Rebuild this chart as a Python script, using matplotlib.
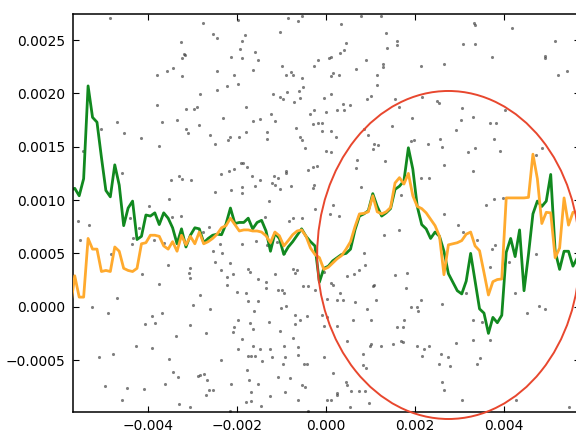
#!/usr/bin/env python3
# -*- coding: utf-8 -*-
"""
两条平滑曲线 + 散点 + 标注椭圆
"""

import numpy as np
import matplotlib
matplotlib.use('Agg')
import matplotlib.pyplot as plt
from matplotlib.patches import Ellipse

# 曲线取样位置, 单位 1e-4
x_grid = np.arange(-57.5, 57.0, 1.0)

# 绿色曲线, 单位 1e-4
green_vals = [
    10.9, 11.1, 10.4, 12.0, 20.7, 17.75, 17.3, 14.0, 10.9, 10.3,
    13.3, 11.4, 7.6, 9.25, 9.9, 6.3, 6.6, 8.6, 8.5, 8.8,
    7.7, 8.8, 8.3, 7.4, 5.9, 7.3, 5.6, 6.7, 7.4, 7.3,
    6.0, 6.4, 6.7, 6.8, 6.75, 7.75, 9.25, 7.8, 7.9, 7.9,
    8.3, 7.3, 7.9, 8.1, 7.1, 5.2, 6.9, 6.4, 4.9, 5.6,
    6.1, 6.7, 7.3, 6.6, 6.1, 5.7, 2.3, 3.6, 3.8, 4.3,
    4.6, 4.9, 5.0, 5.4, 7.2, 8.5, 8.7, 9.0, 10.6, 9.4,
    8.5, 8.8, 9.2, 11.0, 11.3, 11.8, 14.9, 12.9, 9.4, 7.7,
    7.3, 6.4, 7.0, 6.6, 5.2, 3.1, 2.3, 1.5, 1.2, 2.4,
    5.0, 2.4, -0.2, -0.6, -2.5, -1.0, -1.5, -0.8, 5.1, 6.4,
    4.7, 7.2, 1.5, 4.9, 8.7, 9.9, 9.4, 9.9, 12.4, 5.2,
    3.5, 5.2, 5.2, 3.8, 4.6,
]

# 橙色曲线, 单位 1e-4
orange_vals = [
    -0.2, 2.9, 0.9, 0.9, 6.4, 5.4, 5.4, 3.3, 3.4, 3.3,
    5.6, 5.2, 3.6, 3.4, 3.3, 3.6, 5.9, 6.0, 6.7, 6.7,
    6.6, 5.7, 5.4, 6.1, 5.2, 6.7, 5.8, 6.6, 5.9, 7.0,
    5.9, 6.1, 6.4, 6.8, 7.4, 7.6, 8.3, 7.7, 7.1, 7.2,
    7.2, 7.1, 7.1, 7.0, 6.65, 6.0, 7.0, 6.65, 5.7, 6.2,
    6.75, 7.1, 7.2, 6.6, 5.5, 4.9, 4.6, 3.5, 3.7, 4.1,
    4.5, 4.8, 5.4, 6.1, 7.5, 8.7, 8.75, 8.9, 10.4, 8.9,
    8.7, 8.9, 9.3, 11.6, 12.1, 11.5, 12.5, 10.4, 9.4, 9.2,
    8.8, 8.2, 7.6, 6.6, 3.0, 5.8, 5.9, 6.0, 6.2, 6.8,
    7.0, 5.7, 5.25, 3.2, 1.1, 2.35, 2.55, 2.6, 10.2, 10.2,
    10.2, 10.2, 10.2, 10.25, 14.3, 12.0, 7.8, 8.85, 8.8, 4.6,
    5.5, 10.2, 7.65, 8.85, 8.9,
]

# 散点 (x, y), 单位 1e-4
dots = [
    (-48.5, 27.1), (-32.7, 24.8), (-32.0, 23.7), (-31.8, 23.6), (-32.5, 23.3),
    (-34.5, 22.4), (-35.7, 22.1), (-38.0, 21.7), (-32.5, 21.6), (-38.0, 18.9),
    (-31.6, 18.5), (-29.7, 18.5), (-29.0, 18.7), (-47.0, 17.3), (-36.9, 17.3),
    (-33.5, 17.5), (-50.5, 16.7), (-31.6, 16.7), (-31.1, 16.3), (-45.5, 16.3),
    (-41.7, 15.8), (-37.6, 15.1), (-54.7, 14.6), (-45.8, 12.5), (-33.0, 12.3),
    (-32.4, 12.0), (-34.8, 11.9), (-30.3, 11.9), (-35.4, 10.1), (-39.9, 9.4),
    (-32.7, 8.5), (-34.6, 8.4), (-55.7, 8.0), (-53.2, 7.7), (-44.0, 8.3),
    (-42.1, 7.4), (-55.4, 6.3), (-43.4, 6.4), (-43.6, 5.9), (-38.7, 6.3),
    (-36.5, 6.0), (-48.3, 4.9), (-41.3, 3.1), (-35.6, 3.9), (-30.5, 3.6),
    (-30.9, 3.2), (-30.5, 2.7), (-37.6, 2.1), (-47.0, 0.8), (-52.7, 0.0),
    (-30.0, 0.2), (-49.1, -0.6), (-39.1, -0.9), (-36.9, -0.6), (-40.6, -1.6),
    (-38.4, -1.5), (-30.5, -1.7), (-33.7, -2.7), (-42.8, -3.7), (-39.1, -3.9),
    (-51.1, -4.75), (-47.9, -4.4), (-35.2, -4.9), (-34.5, -6.1), (-33.3, -6.6),
    (-28.8, -6.5), (-49.8, -7.4), (-44.7, -7.6), (-41.0, -7.7), (-36.1, -7.2),
    (-45.8, -8.75), (-33.0, -9.1), (-30.7, -9.4),
    (-19.8, 26.9), (-27.6, 26.6), (-8.5, 27.1), (-6.3, 26.75), (-5.5, 27.3),
    (-25.4, 25.6), (-24.6, 25.2), (-10.4, 25.8), (-18.3, 25.5), (-19.0, 24.9),
    (-19.4, 24.2), (-21.4, 23.4), (-19.0, 23.3), (-15.9, 23.9), (-15.4, 23.1),
    (-16.4, 22.2), (-2.8, 22.6), (-1.8, 23.1), (-10.0, 22.6), (-24.6, 22.1),
    (-20.7, 21.7), (-7.9, 22.0), (-7.4, 21.7), (-8.9, 21.75), (-5.5, 21.4),
    (-22.2, 20.7), (-19.9, 20.9), (-24.6, 20.3), (-5.2, 20.6), (-28.4, 19.9),
    (-11.9, 19.9), (-10.4, 19.7), (-9.7, 19.5), (-8.7, 20.1), (-6.1, 20.2),
    (-5.9, 19.6), (-7.2, 19.2), (-18.1, 18.75), (-12.4, 18.1), (-3.7, 18.1),
    (-2.7, 18.4), (-28.5, 17.0), (-23.1, 17.7), (-16.4, 17.4), (-14.9, 17.6),
    (-11.4, 17.4), (-6.7, 16.8), (-2.9, 17.1), (-1.9, 17.2), (-1.0, 17.2),
    (-1.0, 16.5), (-26.1, 16.1), (-22.0, 15.6), (-21.6, 15.9), (-19.6, 15.9),
    (-17.9, 16.4), (-13.2, 16.4), (-13.2, 15.7), (-5.9, 15.9), (-5.5, 15.6),
    (-4.8, 14.9), (-24.9, 15.25), (-19.2, 13.5), (-18.7, 13.5), (-17.7, 13.1),
    (-23.7, 12.4), (-21.9, 12.75), (-20.7, 12.9), (-16.6, 12.3), (-14.9, 11.9),
    (-11.7, 12.3), (-10.9, 12.1), (-12.1, 11.6), (-8.9, 12.75), (-9.1, 12.5),
    (-4.0, 12.8), (-2.9, 13.1), (-2.0, 13.2), (-2.8, 11.4), (-2.9, 11.1),
    (-25.0, 10.8), (-21.3, 10.9), (-18.8, 11.25), (-18.8, 10.7), (-16.0, 11.3),
    (-11.4, 11.4), (-10.4, 11.0), (-7.8, 11.3), (-12.8, 9.9), (-7.4, 8.3),
    (-13.8, 8.4), (-26.4, 7.5), (-27.6, 7.0), (-5.5, 8.3), (-2.4, 9.2),
    (-8.4, 8.0), (-23.9, 5.9), (-25.4, 5.25), (-23.4, 5.0), (-24.9, 4.2),
    (-21.5, 4.1), (-19.0, 5.9), (-15.7, 6.2), (-13.3, 5.8), (-11.0, 6.1),
    (-9.4, 5.0), (-20.9, 3.1), (-17.5, 3.5), (-17.2, 3.3), (-23.7, 3.4),
    (-22.2, 2.75), (-22.2, 2.0), (-15.4, 2.6), (-13.4, 2.3), (-11.4, 3.1),
    (-7.4, 3.5), (-6.9, 3.2), (-6.5, 3.4), (-4.0, 1.9), (-5.2, 1.9),
    (-2.4, 1.6), (-28.4, 1.1), (-26.1, -0.2), (-20.1, 1.4), (-17.9, 1.3),
    (-17.5, 0.5), (-15.3, 0.5), (-13.6, 1.75), (-10.8, 1.6), (-9.8, 1.6),
    (-9.5, 1.3), (-10.2, -0.1), (-8.9, 0.1), (-6.9, -0.8), (-5.9, -1.2),
    (-4.4, -0.9), (-0.9, -0.8), (-27.1, -2.5), (-20.9, -2.4), (-19.9, -1.25),
    (-20.7, -1.9), (-17.2, -1.5), (-16.2, -0.4), (-16.4, -2.1), (-12.8, -1.4),
    (-10.4, -2.25), (-7.0, -1.6), (-19.0, -3.0), (-7.4, -2.9), (-19.9, -4.0),
    (-16.4, -3.7), (-14.9, -4.0), (-12.7, -4.0), (-9.4, -3.7), (-6.4, -3.8),
    (-17.5, -4.6), (-16.9, -4.6), (-16.0, -4.6), (-12.1, -4.7), (-9.3, -4.7),
    (-6.4, -4.5), (-23.7, -5.0), (-14.3, -5.1), (-9.7, -5.4), (-4.9, -5.4),
    (-4.4, -5.4), (-17.7, -5.9), (-28.4, -6.4), (-27.4, -6.3), (-26.7, -6.9),
    (-26.4, -7.8), (-25.4, -7.8), (-21.3, -7.25), (-17.4, -6.9), (-15.3, -7.25),
    (-10.9, -6.6), (-8.2, -6.7), (-5.4, -7.3), (-4.8, -7.5), (-26.9, -8.3),
    (-18.1, -8.9), (-16.9, -8.0), (-16.8, -8.8), (-14.7, -9.3), (-12.7, -8.4),
    (-9.3, -8.0), (-6.4, -8.75), (-21.6, -9.75), (-4.0, -9.75),
    (7.9, 27.3), (12.4, 27.3), (3.3, 26.5), (13.4, 25.7), (4.4, 24.7),
    (15.9, 24.9), (15.9, 24.5), (13.6, 24.3), (4.0, 24.1), (3.1, 23.8),
    (1.2, 23.4), (0.7, 23.3), (8.9, 23.1), (12.9, 22.8), (12.7, 22.5),
    (6.7, 22.3), (1.6, 21.9), (2.9, 21.7), (1.2, 21.6), (11.4, 21.75),
    (21.4, 22.6), (26.5, 22.75), (11.4, 20.8), (-0.4, 19.6), (1.2, 19.9),
    (10.0, 19.8), (9.3, 19.5), (15.4, 19.5), (21.6, 19.7), (3.7, 19.0),
    (5.4, 18.9), (2.5, 18.4), (4.0, 18.4), (-0.1, 18.3), (16.4, 18.7),
    (25.0, 19.25), (25.4, 19.1), (19.4, 17.7), (8.5, 16.7), (14.9, 16.9),
    (1.0, 16.5), (2.2, 15.9), (9.4, 16.1), (10.8, 15.25), (10.6, 14.8),
    (11.7, 15.2), (19.8, 15.6), (19.2, 15.5), (22.9, 15.3), (25.6, 15.7),
    (26.1, 15.0), (-0.1, 14.6), (1.0, 14.5), (6.9, 13.8), (13.2, 13.7),
    (6.7, 13.0), (21.3, 12.1), (23.1, 12.1), (26.4, 13.3), (7.8, 11.2),
    (16.9, 10.5), (26.5, 8.7), (1.6, 9.5), (2.9, 8.5), (0.9, 8.7),
    (16.4, 7.2), (13.0, 6.7), (8.5, 5.0), (8.7, 3.9), (7.4, 3.4),
    (6.3, 3.1), (4.8, 2.9), (-0.4, 3.3), (1.0, 2.2), (3.1, 1.3),
    (15.4, 3.0), (18.1, 3.2), (1.6, 2.0), (2.5, 0.6), (3.7, 0.6),
    (0.3, 0.7), (6.4, 0.4), (9.1, -0.2), (11.2, 0.6), (0.1, -1.0),
    (10.6, 1.9), (10.8, 2.0), (17.9, 1.75), (19.2, 0.0), (20.4, 0.0),
    (21.3, 0.6), (20.7, -0.4), (26.1, 0.25), (-0.4, -1.8), (6.1, -1.2),
    (10.0, -1.2), (16.0, -1.9), (17.4, -1.9), (17.5, -1.25), (2.4, -1.8),
    (4.6, -3.2), (10.2, -3.5), (9.9, -3.7), (12.3, -3.7), (15.1, -3.5),
    (17.2, -3.3), (16.9, -3.2), (20.4, -3.7), (22.0, -4.0), (23.1, -3.7),
    (-0.4, -4.75), (8.2, -4.4), (21.6, -4.6), (25.8, -4.4), (27.3, -4.7),
    (1.6, -6.25), (8.2, -5.5), (8.9, -5.7), (25.4, -5.4), (4.4, -7.1),
    (4.6, -7.3), (5.5, -7.9), (7.4, -7.9), (8.7, -7.9), (2.5, -8.1),
    (2.4, -8.3), (1.2, -8.75), (0.3, -8.7), (9.7, -9.0), (5.4, -9.4),
    (26.1, -7.1), (26.4, -7.8),
    (33.3, 26.6), (33.5, 26.4), (41.9, 26.1), (30.7, 24.6), (33.5, 24.6),
    (37.2, 23.4), (51.5, 24.9), (49.2, 23.5), (49.2, 23.3), (52.2, 21.75),
    (54.1, 22.1), (30.5, 18.6), (40.2, 18.4), (33.1, 17.75), (30.3, 17.5),
    (36.9, 17.2), (38.1, 17.25), (29.2, 16.6), (37.8, 15.7), (32.0, 14.5),
    (33.5, 14.9), (39.1, 14.6), (33.0, 12.75), (48.5, 14.9), (47.2, 14.25),
    (36.0, 9.5), (37.8, 10.1), (39.85, 10.2), (29.7, 7.7), (30.7, 7.0),
    (33.9, 6.25), (38.0, 5.8), (37.2, 5.4), (36.9, 3.7), (47.2, 4.9),
    (41.2, 4.2), (31.5, 1.3), (42.5, 1.3), (45.2, -0.6), (47.9, 0.1),
    (49.2, -0.2), (33.1, -1.2), (35.0, -1.4), (36.9, -3.1), (33.0, -3.1),
    (29.2, -3.4), (34.6, -4.8), (33.9, -5.4), (27.9, -5.6), (30.5, -8.7),
    (42.8, -8.75), (54.5, -9.4),
]

scale = 1e-4
x_line = x_grid * scale
green = np.array(green_vals) * scale
orange = np.array(orange_vals) * scale
dots_x, dots_y = (np.array(dots) * scale).T

plt.rcParams['font.family'] = ['DejaVu Sans']

fig = plt.figure(figsize=(5.76, 4.30), dpi=100)
ax = fig.add_axes([0.1259, 0.0426, 0.8804, 0.9248])

ax.scatter(dots_x, dots_y, s=5, c='#3a3a3a', alpha=0.65, linewidths=0, zorder=1)
ax.plot(x_line, green, color='#11891f', lw=2.0, zorder=2)
ax.plot(x_line, orange, color='#ffaa2e', lw=2.0, zorder=3)

ell = Ellipse((0.00275, 0.000485), width=0.0059, height=0.003075,
              fill=False, edgecolor='#e8472e', lw=1.4, clip_on=False, zorder=4)
ax.add_patch(ell)

ax.set_xlim(-0.0057, 0.0057)
ax.set_ylim(-0.000984, 0.002744)
ax.set_xticks([-0.004, -0.002, 0.0, 0.002, 0.004])
ax.set_yticks([-0.0005, 0.0, 0.0005, 0.0010, 0.0015, 0.0020, 0.0025])
ax.set_xticklabels(['\u22120.004', '\u22120.002', '0.000', '0.002', '0.004'])
ax.set_yticklabels(['\u22120.0005', '0.0000', '0.0005', '0.0010',
                    '0.0015', '0.0020', '0.0025'])
ax.tick_params(direction='in', top=True, right=True, length=4,
               labelsize=10, pad=5)
for sp in ax.spines.values():
    sp.set_linewidth(1.1)

fig.savefig('out.png', dpi=100)
